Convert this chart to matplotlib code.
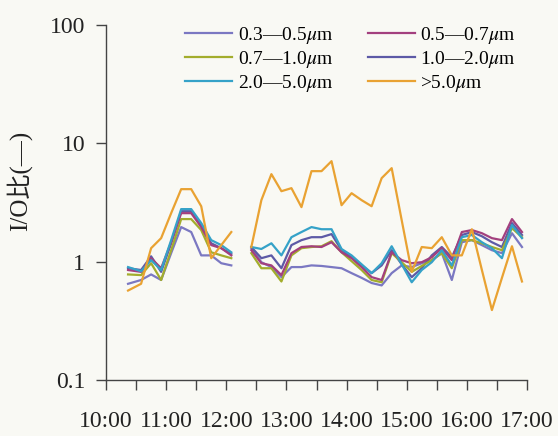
import matplotlib
matplotlib.use("Agg")
import matplotlib.pyplot as plt
from matplotlib.ticker import FixedLocator, NullLocator

plt.rcParams["font.family"] = ["Liberation Serif", "Noto Sans CJK JP"]
plt.rcParams["mathtext.fontset"] = "stix"

# sampling times (HH:MM), morning block and afternoon block
times_am = ["10:22", "10:35", "10:45", "10:55", "11:05", "11:15", "11:25",
            "11:35", "11:45", "11:55", "12:05"]
times_pm = ["12:25", "12:35", "12:45", "12:55", "13:05", "13:15", "13:25",
            "13:35", "13:45", "13:55", "14:05", "14:15", "14:25", "14:35",
            "14:45", "14:55", "15:05", "15:15", "15:25", "15:35", "15:45",
            "15:55", "16:05", "16:15", "16:25", "16:35", "16:45", "16:55"]

labels = ["0.3\u20140.5$\\mu$m", "0.5\u20140.7$\\mu$m", "0.7\u20141.0$\\mu$m",
          "1.0\u20142.0$\\mu$m", "2.0\u20145.0$\\mu$m", ">5.0$\\mu$m"]
colors = ["#7b78c2", "#a3407e", "#a3ad2c", "#5d5aa6", "#35a2c8", "#e9a232"]

# I/O ratio, morning block
am_03_05 = [0.65, 0.70, 0.78, 0.70, 1.18, 1.96, 1.78, 1.13, 1.13, 0.97, 0.93]
am_05_07 = [0.85, 0.82, 1.07, 0.88, 1.46, 2.57, 2.57, 1.96, 1.38, 1.30, 1.13]
am_07_10 = [0.78, 0.77, 0.97, 0.70, 1.25, 2.29, 2.29, 1.85, 1.20, 1.13, 1.07]
am_10_20 = [0.88, 0.85, 1.11, 0.82, 1.43, 2.67, 2.67, 2.00, 1.43, 1.30, 1.16]
am_20_50 = [0.90, 0.83, 1.03, 0.85, 1.52, 2.78, 2.78, 2.12, 1.52, 1.38, 1.20]
am_50 = [0.57, 0.65, 1.30, 1.58, 2.57, 4.10, 4.10, 2.94, 1.07, 1.38, 1.78]

# I/O ratio, afternoon block
pm_03_05 = [1.30, 0.99, 0.90, 0.74, 0.90, 0.90, 0.93, 0.92, 0.90, 0.88,
            0.80, 0.73, 0.66, 0.63, 0.80, 0.93, 0.90, 0.97, 1.03, 1.18,
            0.70, 1.46, 1.52, 1.38, 1.25, 1.18, 1.74, 1.33]
pm_05_07 = [1.25, 0.97, 0.93, 0.77, 1.18, 1.33, 1.35, 1.33, 1.46, 1.20,
            1.07, 0.90, 0.74, 0.70, 1.20, 1.03, 0.97, 0.99, 1.09, 1.30,
            1.03, 1.78, 1.85, 1.74, 1.58, 1.52, 2.29, 1.78]
pm_07_10 = [1.18, 0.88, 0.88, 0.68, 1.13, 1.30, 1.33, 1.35, 1.49, 1.20,
            1.01, 0.85, 0.70, 0.67, 1.18, 0.99, 0.82, 0.92, 1.03, 1.18,
            0.88, 1.52, 1.52, 1.43, 1.33, 1.25, 1.92, 1.61]
pm_10_20 = [1.33, 1.07, 1.13, 0.88, 1.38, 1.52, 1.61, 1.61, 1.71, 1.25,
            1.09, 0.93, 0.80, 0.93, 1.25, 0.95, 0.74, 0.88, 1.13, 1.33,
            1.09, 1.68, 1.78, 1.64, 1.46, 1.33, 2.12, 1.68]
pm_20_50 = [1.33, 1.28, 1.43, 1.13, 1.61, 1.78, 1.96, 1.88, 1.88, 1.28,
            1.13, 0.95, 0.80, 0.97, 1.35, 0.95, 0.67, 0.85, 0.99, 1.25,
            0.93, 1.61, 1.68, 1.46, 1.30, 1.07, 2.04, 1.58]
pm_50 = [1.33, 3.31, 5.49, 3.94, 4.18, 2.89, 5.82, 5.82, 7.07, 3.00,
         3.79, 3.31, 2.94, 5.08, 6.17, 2.24, 0.82, 1.33, 1.30, 1.61,
         1.13, 1.13, 1.88, 0.85, 0.39, 0.73, 1.35, 0.68]

am_series = [am_03_05, am_05_07, am_07_10, am_10_20, am_20_50, am_50]
pm_series = [pm_03_05, pm_05_07, pm_07_10, pm_10_20, pm_20_50, pm_50]


def to_hours(stamps):
    out = []
    for s in stamps:
        h, m = s.split(":")
        out.append(int(h) + int(m) / 60.0)
    return out


x_am = to_hours(times_am)
x_pm = to_hours(times_pm)

fig = plt.figure(figsize=(5.58, 4.36), dpi=100)
fig.patch.set_facecolor("#f9f9f4")
ax = fig.add_axes([106 / 558, 56 / 436, 421 / 558, 355 / 436])
ax.set_facecolor("#f9f9f4")

draw_order = [0, 3, 2, 1, 4, 5]
handles = {}
for i in draw_order:
    h, = ax.plot(x_am, am_series[i], color=colors[i], lw=1.6, label=labels[i])
    ax.plot(x_pm, pm_series[i], color=colors[i], lw=1.6)
    handles[i] = h

ax.set_yscale("log")
ax.set_ylim(0.1, 100)
ax.set_xlim(10, 17)
ax.yaxis.set_major_locator(FixedLocator([0.1, 1, 10, 100]))
ax.yaxis.set_minor_locator(NullLocator())
ax.set_yticklabels(["0.1", "1", "10", "100"])
ax.set_xticks([10, 11, 12, 13, 14, 15, 16, 17])
ax.set_xticklabels(["10:00", "11:00", "12:00", "13:00", "14:00", "15:00",
                    "16:00", "17:00"])
ax.set_xticks([10.5, 11.5, 12.5, 13.5, 14.5, 15.5, 16.5], minor=True)

for side in ("top", "right"):
    ax.spines[side].set_visible(False)
for side in ("left", "bottom"):
    ax.spines[side].set_color("#444444")
    ax.spines[side].set_linewidth(1.0)

ax.tick_params(axis="both", which="both", direction="out", length=7,
               width=1.0, color="#444444", labelsize=17, labelcolor="#222222")
ax.tick_params(axis="x", which="both", pad=15)
ax.tick_params(axis="y", pad=8)

ax.set_ylabel("I/O比(\u2014)", fontsize=18, color="#222222")
ax.yaxis.set_label_coords(-0.175, 0.56)

order = [0, 2, 4, 1, 3, 5]
ax.legend([handles[i] for i in order], [labels[i] for i in order],
          ncol=2, loc="upper left", bbox_to_anchor=((185 - 106) / 421, 1.0),
          frameon=False, fontsize=14, borderpad=0, borderaxespad=0,
          handlelength=2.4, handletextpad=0.3, columnspacing=1.8,
          labelspacing=0.15)

fig.savefig("out.png", dpi=100, facecolor=fig.get_facecolor())
